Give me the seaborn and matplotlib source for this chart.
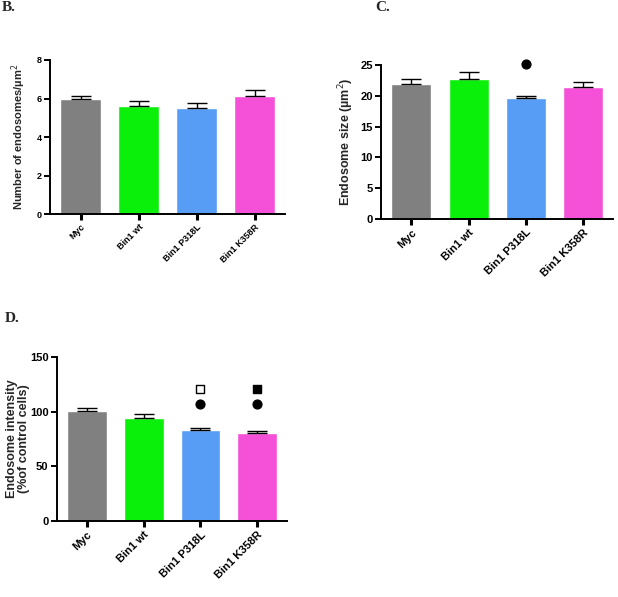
import matplotlib
matplotlib.use("Agg")
import matplotlib.pyplot as plt
import seaborn as sns
import numpy as np
import pandas as pd

categories = ["Myc", "Bin1 wt", "Bin1 P318L", "Bin1 K358R"]
colors = ["#808080", "#0af00a", "#579cf5", "#f550d8"]

# Panel B: number of endosomes per µm²
count_mean = [5.95, 5.62, 5.52, 6.12]
count_sem = [0.20, 0.23, 0.23, 0.30]

# Panel C: endosome size (µm²)
size_mean = [22.0, 22.8, 19.6, 21.4]
size_sem = [0.7, 1.0, 0.4, 0.8]
size_marks_circle = [None, None, 25.1, None]

# Panel D: endosome intensity (% of control)
int_mean = [101.0, 94.5, 83.0, 80.5]
int_sem = [2.0, 3.0, 2.0, 1.5]
int_marks_circle = [None, None, 107.0, 107.0]
int_marks_open_sq = [None, None, 120.5, None]
int_marks_fill_sq = [None, None, None, 120.5]

sns.set_theme(style="ticks")
plt.rcParams["font.family"] = ["Liberation Sans", "DejaVu Sans"]

fig = plt.figure(figsize=(6.18, 5.97), dpi=100)


def draw(ax, mean, sem, ylim, yticks, ylabel, tick_fs, label_fs, labelpad):
    df = pd.DataFrame({"cat": categories, "val": mean})
    sns.barplot(data=df, x="cat", y="val", hue="cat", palette=colors,
                order=categories, hue_order=categories, width=0.7,
                errorbar=None, legend=False, ax=ax, saturation=1)
    xs = np.arange(len(categories))
    ax.errorbar(xs, mean, yerr=[np.zeros(len(sem)), sem], fmt="none",
                ecolor="black", elinewidth=1.0, capsize=7, capthick=1.0, zorder=3)
    ax.set_ylim(*ylim)
    ax.set_xlim(-0.53, 3.52)
    ax.set_yticks(yticks)
    ax.set_yticklabels([str(t) for t in yticks], fontsize=tick_fs, fontweight="bold")
    ax.set_xticks(xs)
    ax.set_xticklabels(categories, rotation=45, ha="right", rotation_mode="anchor",
                       fontsize=tick_fs, fontweight="bold")
    ax.set_xlabel("")
    ax.set_ylabel(ylabel, fontsize=label_fs, fontweight="bold", labelpad=labelpad)
    for s in ["top", "right"]:
        ax.spines[s].set_visible(False)
    for s in ["left", "bottom"]:
        ax.spines[s].set_linewidth(1.4)
        ax.spines[s].set_color("black")
    ax.tick_params(axis="both", direction="out", length=4, width=1.4, colors="black", pad=2)
    ax.tick_params(axis="x", width=2.2)


def marks(ax, vals, marker, face):
    for i, v in enumerate(vals):
        if v is not None:
            ax.scatter([i], [v], marker=marker, s=40, facecolors=face,
                       edgecolors="black", linewidths=1.0, zorder=4, clip_on=False)


# Panel B
axB = fig.add_axes([0.081, 0.6415, 0.380, 0.258])
draw(axB, count_mean, count_sem, (0, 8), [0, 2, 4, 6, 8],
     "Number of endosomes/µm$^{2}$", 6.5, 8, 6)

# Panel C
axC = fig.add_axes([0.6165, 0.633, 0.3755, 0.258])
draw(axC, size_mean, size_sem, (0, 25), [0, 5, 10, 15, 20, 25],
     "Endosome size (µm$^{2}$)", 8, 9, 3)
marks(axC, size_marks_circle, "o", "black")

# Panel D
axD = fig.add_axes([0.092, 0.127, 0.372, 0.275])
draw(axD, int_mean, int_sem, (0, 150), [0, 50, 100, 150],
     "Endosome intensity\n(%of control cells)", 8, 9, 0)
axD.yaxis.label.set_linespacing(1.0)
marks(axD, int_marks_circle, "o", "black")
marks(axD, int_marks_open_sq, "s", "white")
marks(axD, int_marks_fill_sq, "s", "black")

serif = ["Liberation Serif", "DejaVu Serif"]
fig.text(0.003, 0.998, "B.", fontsize=11, fontweight="bold", family=serif, va="top")
fig.text(0.607, 0.998, "C.", fontsize=11, fontweight="bold", family=serif, va="top")
fig.text(0.008, 0.478, "D.", fontsize=11, fontweight="bold", family=serif, va="top")

fig.savefig("out.png", dpi=100)
